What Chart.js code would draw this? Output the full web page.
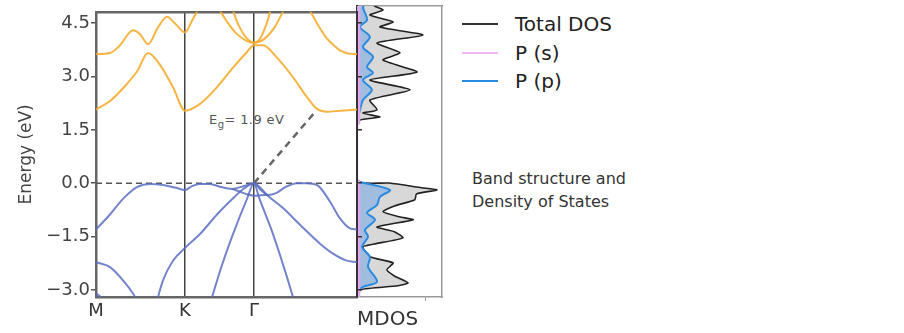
<!DOCTYPE html>
<html>
<head>
<meta charset="utf-8">
<script src="https://cdn.jsdelivr.net/npm/chart.js@4.4.1/dist/chart.umd.min.js"></script>
<style>
  body { margin: 0; background: #fff; width: 904px; height: 333px; overflow: hidden; font-family: "DejaVu Sans", sans-serif; }
  #bandBox { position: absolute; left: 0; top: 0; width: 362px; height: 333px; z-index: 2; }
  #dosBox { position: absolute; left: 352px; top: 0; width: 95px; height: 333px; z-index: 1; }
  .legend { position: absolute; left: 462px; top: 10px; font-size: 20px; color: #222; }
  .legend div { position: relative; height: 28.5px; line-height: 28px; padding-left: 53px; }
  .legend span { position: absolute; left: 0; top: 13px; width: 36px; height: 2px; }
  .note { position: absolute; left: 472px; top: 167px; font-size: 16px; line-height: 23px; color: #333; }
  .eg { position: absolute; left: 209px; top: 112px; font-size: 13px; color: #555; letter-spacing: 0.4px; }
  .eg sub { font-size: 10px; }
</style>
</head>
<body>
<div id="bandBox"><canvas id="bandChart"></canvas></div>
<div id="dosBox"><canvas id="dosChart"></canvas></div>

<div class="legend">
  <div><span style="background:#333"></span>Total DOS</div>
  <div><span style="background:#f0b8f0"></span>P (s)</div>
  <div><span style="background:#2a8ae0"></span>P (p)</div>
</div>
<div class="note">Band structure and<br>Density of States</div>
<div class="eg">E<sub>g</sub>= 1.9 eV</div>

<script>
// k-path positions (arbitrary distance units) and labels
const kPath = [0, 89, 158];
const kLabels = ['M', 'K', 'Γ'];
const kEnd = 261;
const energyTicks = [-3, -1.5, 0, 1.5, 3, 4.5];
const eMin = -3.2, eMax = 4.82;

// conduction bands [k, E]
const cond1 = [[0,2.07],[14,2.31],[27,2.67],[41,3.14],[52,3.66],[64,3.33],[77,2.70],[89,2.04],[104,2.23],[121,2.70],[137,3.25],[151,3.69],[158,3.88],[167,3.88],[181,3.53],[197,2.98],[211,2.42],[221,2.09],[231,2.01],[244,2.04],[261,2.07]];
const cond2 = [[0,3.63],[14,3.66],[24,3.88],[37,4.30],[44,4.19],[52,3.91],[62,4.38],[71,4.68],[79,4.49],[89,4.24],[96,4.57],[102,4.88],[108,5.2]];
const cond3 = [[118,5.1],[124,4.85],[132,4.50],[140,4.22],[150,4.01],[158,3.95],[168,4.05],[178,4.36],[188,4.88],[192,5.1]];
const cond4 = [[133,5.1],[137,4.85],[142,4.48],[150,4.10],[158,3.95],[164,4.07],[170,4.44],[175,4.90],[177,5.1]];
const cond5 = [[208,5.1],[214,4.85],[222,4.45],[230,4.10],[237,3.90],[245,3.72],[252,3.65],[261,3.63]];

// valence bands [k, E]
const val1 = [[0,-1.30],[14,-0.88],[27,-0.44],[41,-0.11],[54,-0.02],[67,-0.05],[80,-0.13],[89,-0.19],[96,-0.08],[104,-0.02],[114,-0.02],[124,-0.10],[136,-0.16],[148,-0.08],[158,0],[165,-0.2],[172,-0.33],[180,-0.28],[190,-0.1],[201,0],[210,0],[221,-0.05],[234,-0.52],[244,-0.99],[254,-1.27],[261,-1.30]];
const val2 = [[61,-3.3],[67,-2.73],[77,-2.18],[89,-1.82],[104,-1.43],[121,-0.88],[135,-0.48],[148,-0.15],[158,0],[164,-0.12],[171,-0.33],[187,-0.70],[204,-1.17],[224,-1.70],[237,-1.98],[250,-2.17],[261,-2.22]];
const val3 = [[0,-2.22],[14,-2.36],[27,-2.73],[37,-3.1],[41,-3.3]];
const val4 = [[115,-3.3],[126,-2.3],[137,-1.43],[151,-0.44],[158,0],[163,-0.4],[177,-1.43],[190,-2.55],[198,-3.3]];
const val5 = [[136,-0.16],[144,-0.24],[151,-0.31],[158,-0.35],[165,-0.34],[172,-0.33]];
const val6 = [[0,-3.1],[5,-3.2],[9,-3.3]];

// band gap guide
const gapLine = [[158,0],[219,2.0]];

// density of states [E, DOS]
const dosTotal = [[4.82,1.0],[4.71,1.53],[4.57,0.76],[4.38,2.12],[4.24,1.35],[4.02,3.88],[3.80,1.18],[3.53,2.53],[3.33,1.53],[3.00,3.53],[2.78,0.76],[2.51,3.12],[2.23,0.76],[1.96,1.18],[1.87,0.35],[1.76,1.35],[1.68,0.18],[1.54,0],[0,0],[-0.06,1.9],[-0.19,3.8],[-0.25,4.7],[-0.36,3.5],[-0.52,3.4],[-0.69,2.2],[-0.85,1.53],[-0.99,2.5],[-1.07,3.3],[-1.27,1.18],[-1.40,2.2],[-1.57,2.7],[-1.74,1.0],[-1.82,0.35],[-2.09,0.76],[-2.26,2.12],[-2.45,1.76],[-2.62,2.2],[-2.81,3.0],[-2.89,2.4],[-3.0,0.2],[-3.2,0.1]];
const dosPp = [[4.82,0.4],[4.77,0.35],[4.44,0.59],[4.24,0.18],[3.97,0.76],[3.69,0.35],[3.42,0.94],[3.14,0.59],[2.98,0.94],[2.78,0.35],[2.51,0.88],[2.23,0.35],[1.96,0.18],[1.76,0.06],[1.6,0],[0,0],[-0.03,0.2],[-0.25,1.94],[-0.44,1.35],[-0.66,1.18],[-0.88,0.59],[-1.07,1.06],[-1.35,0.47],[-1.54,0.65],[-1.82,0.3],[-2.09,0.76],[-2.37,0.65],[-2.78,1.18],[-2.92,0.35],[-3.06,0],[-3.2,0]];
const dosPs = [[4.82,0.12],[1.6,0.12],[1.55,0],[0.02,0],[0,0.12],[-3.2,0.12]];
const dosZero = [[0,0],[5,0]];

const orange = 'rgba(245,172,45,0.9)';
const blue = 'rgba(90,110,195,0.85)';
const frame = '#666';

function pts(arr) { return arr.map(p => ({x: p[0], y: p[1]})); }
function dosPts(arr) { return arr.map(p => ({x: p[1], y: p[0]})); }
function fmt(v) { return v.toFixed(1).replace('-', '\u2212'); }

function band(arr, color) {
  return { data: pts(arr), borderColor: color, borderWidth: 2, pointRadius: 0, cubicInterpolationMode: 'monotone', fill: false };
}

const bandSets = [
  band(cond1, orange), band(cond2, orange), band(cond3, orange), band(cond4, orange), band(cond5, orange),
  band(val1, blue), band(val2, blue), band(val3, blue), band(val4, blue), band(val5, blue), band(val6, blue),
  { data: pts([[0,0],[kEnd,0]]), borderColor: '#555', borderWidth: 1.5, borderDash: [6,4], pointRadius: 0 },
  { data: pts(gapLine), borderColor: '#666', borderWidth: 2.5, borderDash: [7,5], pointRadius: 0 }
];

new Chart(document.getElementById('bandChart'), {
  type: 'line',
  data: { datasets: bandSets },
  options: {
    responsive: true,
    maintainAspectRatio: false,
    animation: false,
    layout: { padding: { top: 6 } },
    plugins: { legend: { display: false }, tooltip: { enabled: false } },
    scales: {
      x: {
        type: 'linear', min: 0, max: kEnd,
        afterBuildTicks: s => { s.ticks = kPath.map(v => ({value: v})); },
        afterFit: s => { s.height = 36; },
        ticks: { callback: (v, i) => kLabels[i], color: '#333', font: { size: 18, family: 'DejaVu Sans' }, padding: 4, maxRotation: 0 },
        grid: { drawTicks: false, color: c => (c.tick && c.tick.value > 0) ? '#444' : 'rgba(0,0,0,0)', lineWidth: 1.5 },
        border: { color: frame, width: 2.5 }
      },
      xTop: {
        type: 'linear', position: 'top', min: 0, max: kEnd,
        afterFit: s => { s.height = 0; },
        ticks: { display: false }, grid: { display: false },
        border: { color: frame, width: 2.5 }
      },
      y: {
        min: eMin, max: eMax,
        afterBuildTicks: s => { s.ticks = energyTicks.map(v => ({value: v})); },
        afterFit: s => { s.width = 96; },
        ticks: { callback: v => fmt(v), color: '#444', font: { size: 18, family: 'DejaVu Sans' }, padding: 1 },
        grid: { drawOnChartArea: false, tickLength: 5, color: '#555', lineWidth: 1.5 },
        border: { color: frame, width: 2.5 },
        title: { display: true, text: 'Energy (eV)', color: '#444', font: { size: 17, family: 'DejaVu Sans' }, padding: { top: 16 } }
      },
      y2: {
        position: 'right', min: eMin, max: eMax,
        afterBuildTicks: s => { s.ticks = energyTicks.map(v => ({value: v})); },
        afterFit: s => { s.width = 5; },
        ticks: { display: false },
        grid: { drawOnChartArea: false, tickLength: 5, color: '#333', lineWidth: 1.5 },
        border: { color: '#333', width: 2 }
      }
    }
  }
});

new Chart(document.getElementById('dosChart'), {
  type: 'line',
  data: {
    datasets: [
      { label: 'P (s)', data: dosPts(dosPs), borderColor: '#e3a6ee', borderWidth: 2.5, pointRadius: 0, fill: false },
      { label: 'P (p)', data: dosPts(dosPp), borderColor: '#2a8ae0', backgroundColor: 'rgba(150,185,225,0.85)', borderWidth: 2, pointRadius: 0, tension: 0.3, fill: 'origin' },
      { label: 'Total DOS', data: dosPts(dosTotal), borderColor: '#222', backgroundColor: '#d8d8d8', borderWidth: 1.6, pointRadius: 0, tension: 0.2, fill: 'origin' },
      { data: dosPts(dosZero), borderColor: '#555', borderWidth: 1.5, borderDash: [6,4], pointRadius: 0 }
    ]
  },
  options: {
    indexAxis: 'y',
    responsive: true,
    maintainAspectRatio: false,
    animation: false,
    layout: { padding: { top: 6, right: 5 } },
    plugins: { legend: { display: false }, tooltip: { enabled: false } },
    scales: {
      x: {
        type: 'linear', min: 0, max: 5,
        afterBuildTicks: s => { s.ticks = [{value: 4}]; },
        afterFit: s => { s.height = 36; },
        ticks: { display: false },
        grid: { drawOnChartArea: false, tickLength: 4, color: '#999' },
        border: { color: '#999', width: 1.5 },
        title: { display: true, text: 'MDOS', align: 'start', color: '#333', font: { size: 20, family: 'DejaVu Sans' }, padding: { top: 0, bottom: 1 } }
      },
      xTop: {
        type: 'linear', position: 'top', min: 0, max: 5,
        afterFit: s => { s.height = 0; },
        ticks: { display: false }, grid: { display: false },
        border: { color: '#999', width: 1.5 }
      },
      y: {
        type: 'linear', min: eMin, max: eMax,
        afterFit: s => { s.width = 5; },
        ticks: { display: false }, grid: { display: false },
        border: { color: '#333', width: 2 }
      },
      yRight: {
        type: 'linear', position: 'right', min: eMin, max: eMax,
        afterFit: s => { s.width = 0; },
        ticks: { display: false }, grid: { display: false },
        border: { color: '#999', width: 1.5 }
      }
    }
  }
});
</script>
</body>
</html>
